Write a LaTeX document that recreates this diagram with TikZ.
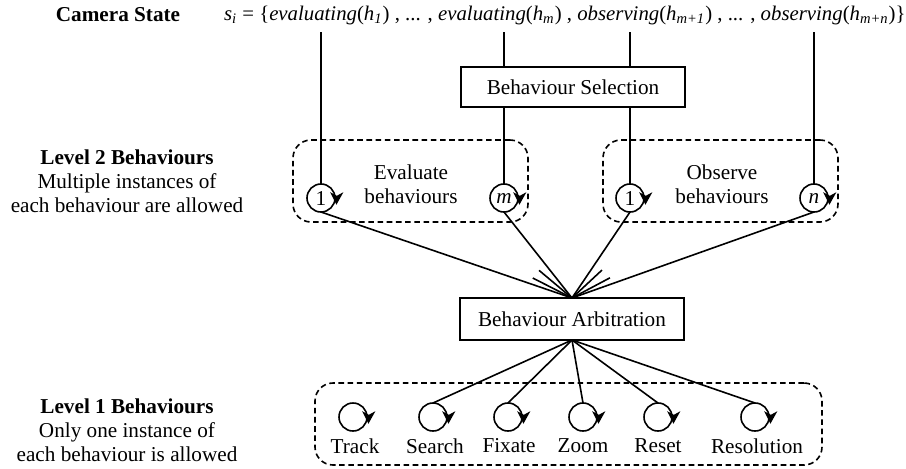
\documentclass[tikz,border=0pt]{standalone}
\usepackage{fontspec}
\setmainfont{Liberation Serif}
\usetikzlibrary{arrows.meta,calc}
\begin{document}
\begin{tikzpicture}[x=0.5pt,y=-0.5pt,
  every node/.style={font=\fontsize{10.6}{12}\selectfont, inner sep=0pt, outer sep=0pt},
  ln/.style={line width=0.8pt},
  boxn/.style={draw, line width=0.9pt, minimum width=112pt, minimum height=20pt},
  grp/.style={draw, dash pattern=on 2.8pt off 1.8pt, line width=0.8pt, rounded corners=9pt},
  bcirc/.style={draw, circle, line width=0.8pt, minimum size=14pt},
  lbl/.style={align=center},
]
\useasboundingbox (0,0) rectangle (906,468);

% top row
\node (cam) at (118,15) {\textbf{Camera State}};
\node[anchor=west, font=\fontsize{10.4}{12}\selectfont] (state) at (224,15) {\textit{s}\textsubscript{\textit{i}} = \{\textit{evaluating}(\textit{h}\textsubscript{\textit{1}}) , ... , \textit{evaluating}(\textit{h}\textsubscript{\textit{m}}) , \textit{observing}(\textit{h}\textsubscript{\textit{m+1}}) , ... , \textit{observing}(\textit{h}\textsubscript{\textit{m+n}})\}};

\coordinate (t1) at (321,32);
\coordinate (t2) at (504,32);
\coordinate (t3) at (630,32);
\coordinate (t4) at (814,32);

% behaviour selection
\node[boxn] (sel) at (573,87) {Behaviour Selection};

% level 2 groups
\node[grp, minimum width=117.5pt, minimum height=41pt] (gev) at (410.5,181) {};
\node[grp, minimum width=117.5pt, minimum height=41pt] (gob) at (720.5,181) {};
\node[lbl] (evl) at (411,184) {Evaluate\\behaviours};
\node[lbl] (obl) at (722,184) {Observe\\behaviours};

\node[bcirc] (e1) at (321,198) {1};
\node[bcirc] (em) at (504,198) {\textit{m}};
\node[bcirc] (o1) at (630,198) {1};
\node[bcirc] (on) at (814,198) {\textit{n}};

\node[lbl] (lv2) at (127,181) {\textbf{Level 2 Behaviours}\\Multiple instances of\\each behaviour are allowed};

% vertical lines
\draw[ln] (t1) -- (e1.north);
\draw[ln] (t2) -- (t2 |- sel.north);
\draw[ln] (t2 |- sel.south) -- (em.north);
\draw[ln] (t3) -- (t3 |- sel.north);
\draw[ln] (t3 |- sel.south) -- (o1.north);
\draw[ln] (t4) -- (on.north);

% arbitration
\node[boxn, minimum height=21pt] (arb) at (572,319) {Behaviour Arbitration};

\draw[ln] (e1.south) -- (arb.north);
\draw[ln] (em.south) -- (arb.north);
\draw[ln] (o1.south) -- (arb.north);
\draw[ln] (on.south) -- (arb.north);
\draw[ln] (arb.north) -- ++(153:22pt);
\draw[ln] (arb.north) -- ++(140:21.5pt);
\draw[ln] (arb.north) -- ++(43:20.5pt);
\draw[ln] (arb.north) -- ++(28:21.5pt);

% level 1
\node[grp, minimum width=253.5pt, minimum height=41pt] (gl1) at (568.5,424) {};
\node[lbl] (lv1) at (127,430) {\textbf{Level 1 Behaviours}\\Only one instance of\\each behaviour is allowed};

\node[bcirc] (ctr) at (353,417) {};
\node[bcirc] (csr) at (433,417) {};
\node[bcirc] (cfx) at (508,417) {};
\node[bcirc] (czm) at (583,417) {};
\node[bcirc] (crs) at (658,417) {};
\node[bcirc] (crl) at (755,417) {};
\node (ltr) at (355,446) {Track};
\node (lsr) at (435,446) {Search};
\node (lfx) at (509,446) {Fixate};
\node (lzm) at (583,446) {Zoom};
\node (lrs) at (658,446) {Reset};
\node (lrl) at (757,446) {Resolution};

\draw[ln] (arb.south) -- (csr.north);
\draw[ln] (arb.south) -- (cfx.north);
\draw[ln] (arb.south) -- (czm.north);
\draw[ln] (arb.south) -- (crs.north);
\draw[ln] (arb.south) -- (crl.north);

% rotation arrowheads (pointing down) on the right side of each circle
\foreach \cc in {e1,em,o1,on,ctr,csr,cfx,czm,crs,crl}{
  \fill ($(\cc.center)+(4.6pt,2.9pt)$) -- ($(\cc.center)+(7.9pt,1.1pt)$)
     -- ($(\cc.center)+(11.2pt,2.9pt)$) -- ($(\cc.center)+(7.7pt,-3.4pt)$) -- cycle;
}
\end{tikzpicture}
\end{document}
